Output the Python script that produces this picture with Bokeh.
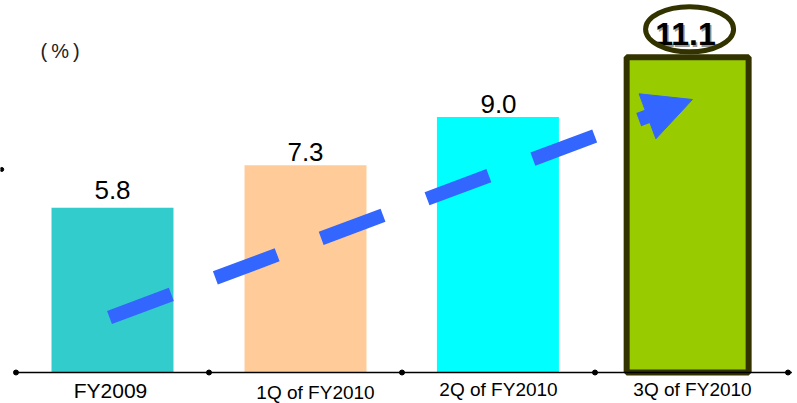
from bokeh.plotting import figure
from bokeh.models import Range1d, Arrow, NormalHead, Label, ColumnDataSource
from bokeh.core.properties import value
from bokeh.embed import file_html
from bokeh.resources import INLINE

# ---- data ----
categories = ["FY2009", "1Q of FY2010", "2Q of FY2010", "3Q of FY2010"]
values = [5.8, 7.3, 9.0, 11.1]
value_labels = ["5.8", "7.3", "9.0", "11.1"]
bar_colors = ["#33CCCC", "#FFCC99", "#00FFFF", "#99CC00"]
unit_label = "(\u2009%\u2009)"
# trend arrow (data units: x in category slots, y in %)
trend_start = (0.4845, 1.937)
trend_end = (3.505, 9.613)

FONT = "Liberation Sans"
BLUE = "#3366FF"
OLIVE = "#333300"

W, H = 797, 403
PX_PER_UNIT = 28.4
Y1 = 372 / PX_PER_UNIT
Y0 = Y1 - H / PX_PER_UNIT

p = figure(width=W, height=H, output_backend="svg", toolbar_location=None,
           x_range=Range1d(-0.0803, 4.0492), y_range=Range1d(Y0, Y1),
           x_axis_location=None, y_axis_location=None,
           min_border=0, min_border_left=0, min_border_right=0,
           min_border_top=0, min_border_bottom=0,
           outline_line_color=None, background_fill_color="white",
           border_fill_color="white")
p.grid.visible = False

n = len(categories)
xs = [i + 0.5 for i in range(n)]
bar_nudge = [0, 0, -0.003, -0.02]

src = ColumnDataSource(dict(
    x=[x + d for x, d in zip(xs, bar_nudge)], top=values, color=bar_colors,
    lc=[c for c in bar_colors[:-1]] + [OLIVE],
    lw=[0, 0, 0, 6],
    la=[0, 0, 0, 1],
))
p.vbar(x="x", top="top", bottom=0, width=0.632, source=src,
       fill_color="color", line_color="lc", line_width="lw", line_alpha="la")

# baseline axis with boundary dots
p.segment(x0=[-0.008], y0=[0], x1=[n + 0.02], y1=[0], line_color="black", line_width=1.5)
p.scatter(x=list(range(n + 1)), y=[0] * (n + 1), size=5, color="black")
# stray y-axis tick at the left edge
p.scatter(x=[-0.074], y=[7.15], size=4, color="black")

# category labels
p.text(x=xs, y=[0] * n, text=categories,
       x_offset=[-2, 10, 0, 1], y_offset=[18, 20, 17, 17],
       text_font=value(FONT), text_font_size=["21px", "19px", "19px", "19px"],
       text_align="center", text_baseline="alphabetic", text_color="black")

# value labels (first three)
p.text(x=xs[:-1], y=values[:-1], text=value_labels[:-1],
       y_offset=[-18, -13, -13],
       text_font=value(FONT), text_font_size="26px",
       text_align="center", text_baseline="alphabetic", text_color="black")

# highlighted last value
p.text(x=[xs[-1]], y=[values[-1]], text=[value_labels[-1]],
       x_offset=-4.5, y_offset=-21.5,
       text_font=value(FONT), text_font_size="32px", text_font_style="bold",
       text_align="center", text_baseline="alphabetic", text_color="#999999")
p.text(x=[xs[-1]], y=[values[-1]], text=[value_labels[-1]],
       x_offset=-6, y_offset=-23,
       text_font=value(FONT), text_font_size="32px", text_font_style="bold",
       text_align="center", text_baseline="alphabetic", text_color="black")
p.ellipse(x=[xs[-1] - 0.01], y=[values[-1] + 28 / PX_PER_UNIT],
          width=88, height=45, width_units="screen", height_units="screen",
          fill_color=None, line_color=OLIVE, line_width=5)

# trend arrow
arrow = Arrow(end=NormalHead(size=48, fill_color=BLUE, line_color=BLUE, line_width=1),
              x_start=trend_start[0], y_start=trend_start[1],
              x_end=trend_end[0], y_end=trend_end[1],
              line_color=BLUE, line_width=14, line_dash="66 47")
p.add_layout(arrow)

p.add_layout(Label(x=40, y=353, x_units="screen", y_units="screen", text=unit_label,
                   text_font=FONT, text_font_size="20px", text_color="#222222",
                   text_baseline="alphabetic"))

open("out.html", "w").write(file_html(p, INLINE))
